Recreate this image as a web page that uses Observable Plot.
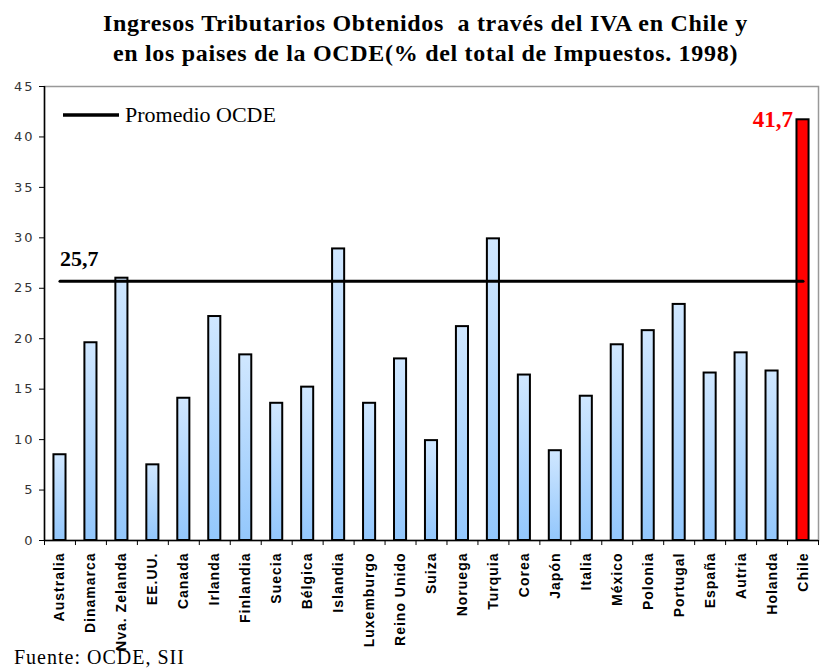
<!DOCTYPE html>
<html><head><meta charset="utf-8">
<script src="https://cdn.jsdelivr.net/npm/d3@7"></script>
<script src="https://cdn.jsdelivr.net/npm/@observablehq/plot@0.6"></script>
<style>
body{margin:0;background:#fff;width:823px;height:668px;position:relative;overflow:hidden}
#title{position:absolute;left:14px;top:0;width:823px;text-align:center;font-family:"Liberation Serif";font-weight:bold;font-size:24px;letter-spacing:0.7px;line-height:30px;white-space:pre;padding-top:8px}
#chart{position:absolute;left:0;top:78px}
#cap{position:absolute;left:14px;top:646px;font-family:"Liberation Serif";font-size:20px;line-height:22px;letter-spacing:1px}
</style></head><body>
<div id="title">Ingresos Tributarios Obtenidos  a través del IVA en Chile y
en los paises de la OCDE(% del total de Impuestos. 1998)</div>
<div id="chart"></div>
<div id="cap">Fuente: OCDE, SII</div>
<script>
const categories = ["Australia","Dinamarca","Nva. Zelanda","EE.UU.","Canada","Irlanda","Finlandia","Suecia","Bélgica","Islandia","Luxemburgo","Reino Unido","Suiza","Noruega","Turquia","Corea","Japón","Italia","México","Polonia","Portugal","España","Autria","Holanda","Chile"];
const values = [8.5,19.6,26.0,7.5,14.1,22.2,18.4,13.6,15.2,28.9,13.6,18.0,9.9,21.2,29.9,16.4,8.9,14.3,19.4,20.8,23.4,16.6,18.6,16.8,41.7];
const ocdeAverage = 25.7;
const ocdeLabel = "25,7";
const chileLabel = "41,7";
const legendLabel = "Promedio OCDE";
const yTicks = [0,5,10,15,20,25,30,35,40,45];

const data = categories.map((c,i)=>({pais:c, valor:values[i]}));
const others = data.filter(d=>d.pais!=="Chile");
const chile = data.filter(d=>d.pais==="Chile");
const plotW = 823-44-5;
const step = plotW/categories.length;

const plot = Plot.plot({
  width:823, height:590, marginLeft:44, marginRight:5, marginTop:8, marginBottom:128,
  style:{background:"white", overflow:"visible"},
  x:{domain:categories, paddingInner:0.61, paddingOuter:0.305, round:false, label:null},
  y:{domain:[0,45], ticks:yTicks, label:null},
  marks:[
    Plot.frame({stroke:"#999", strokeWidth:1.5}),
    Plot.barY(others,{x:"pais", y:"valor", fill:"url(#barGrad)", stroke:"black", strokeWidth:2}),
    Plot.barY(chile,{x:"pais", y:"valor", fill:"#ff0000", stroke:"black", strokeWidth:2}),
    Plot.ruleX([categories[0]], {x:d=>d, dx:-step/2, y1:0, y2:45, stroke:"black", strokeWidth:1.5}),
    Plot.ruleY([0], {stroke:"black", strokeWidth:1.5}),
    Plot.ruleX(categories, {x:d=>d, y1:0, y2:-0.5, dx:-step/2, stroke:"black"}),
    Plot.ruleX([categories[categories.length-1]], {x:d=>d, y1:0, y2:-0.5, dx:step/2, stroke:"black"}),
    Plot.line(categories, {x:d=>d, y:()=>ocdeAverage, stroke:"black", strokeWidth:3}),
    Plot.text([ocdeLabel], {x:()=>categories[0], y:()=>ocdeAverage, text:d=>d, textAnchor:"start", lineAnchor:"bottom", dy:-15, fontFamily:"Liberation Serif", fontWeight:"bold", fontSize:22, fill:"black"}),
    Plot.text([chileLabel], {x:()=>"Chile", y:()=>values[values.length-1], text:d=>d, textAnchor:"end", lineAnchor:"bottom", dx:-10, dy:7, fontFamily:"Liberation Serif", fontWeight:"bold", fontSize:23, fill:"#ff0000"}),
    Plot.axisY({ticks:yTicks, tickSize:5, tickPadding:5, fontSize:13, fontFamily:"DejaVu Sans", fill:"#333", stroke:"black"}),
    Plot.axisX({tickSize:0, tickRotate:-90, tickPadding:12, fontSize:14, fontFamily:"Liberation Sans", fontWeight:"bold", fill:"black"})
  ]
});

const svg = d3.select(plot);
const grad = svg.insert("defs", ":first-child").append("linearGradient")
  .attr("id","barGrad").attr("x1",0).attr("y1",0).attr("x2",0).attr("y2",1);
grad.append("stop").attr("offset","0%").attr("stop-color","#d0e7ff");
grad.append("stop").attr("offset","100%").attr("stop-color","#93c7fc");

svg.selectAll('g[aria-label="y-axis tick label"] text').style("letter-spacing","2px");
svg.selectAll('g[aria-label="x-axis tick label"] text').style("letter-spacing","1px");

// legend
const lg = svg.append("g");
lg.append("line").attr("x1",63).attr("x2",119).attr("y1",37).attr("y2",37).attr("stroke","black").attr("stroke-width",3.5);
lg.append("text").attr("x",125).attr("y",44).attr("text-anchor","start").attr("font-family","Liberation Serif").attr("font-size",22).attr("fill","black").text(legendLabel);

document.getElementById("chart").appendChild(plot);
</script>
</body></html>
